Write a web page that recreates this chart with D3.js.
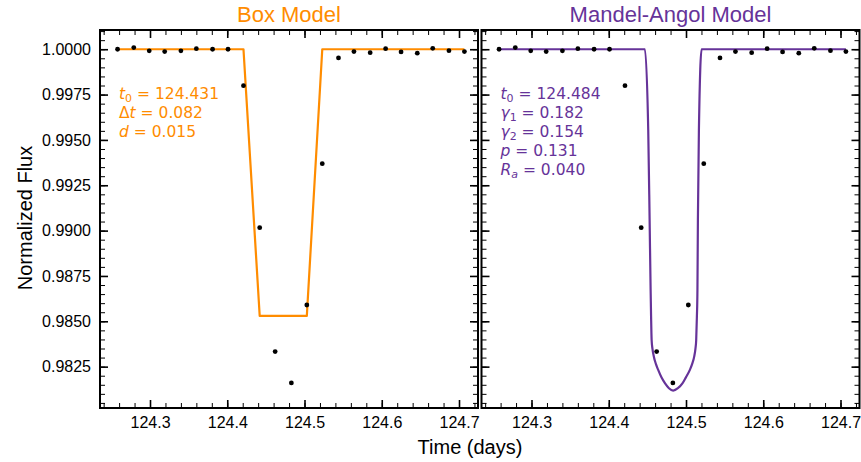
<!DOCTYPE html>
<html>
<head>
<meta charset="utf-8">
<script src="https://cdn.jsdelivr.net/npm/d3@7"></script>
<style>
  body { margin: 0; background: #fff; }
</style>
</head>
<body>
<div id="chart"></div>
<script>
// observed cadence times (days) and normalized flux
const times = [124.258, 124.279, 124.299, 124.319, 124.340, 124.360, 124.381, 124.401,
  124.421, 124.442, 124.462, 124.483, 124.503, 124.523, 124.544, 124.564, 124.585,
  124.605, 124.625, 124.646, 124.666, 124.687, 124.707];
const flux = [1.0000, 1.00009, 0.99991, 0.99987, 0.99991, 1.00003, 1.0000, 1.0000,
  0.99799, 0.99016, 0.98333, 0.98160, 0.98590, 0.99369, 0.99952, 0.99987, 0.99981,
  1.00003, 0.99985, 0.99978, 1.00005, 0.99992, 0.99987];

// box model evaluated at the cadence times
const boxFlux = [1, 1, 1, 1, 1, 1, 1, 1, 1, 0.9853, 0.9853, 0.9853, 0.9853,
  1, 1, 1, 1, 1, 1, 1, 1, 1, 1];

// Mandel-Agol model curve
const maTimes = [124.258, 124.4468, 124.4511, 124.4529, 124.4542, 124.4548, 124.4555,
  124.4566, 124.4584, 124.4610, 124.4640, 124.4682, 124.4727, 124.4779, 124.4834,
  124.4895, 124.4956, 124.4999, 124.5050, 124.5080, 124.5106, 124.5122, 124.5132,
  124.5141, 124.5148, 124.5154, 124.5167, 124.5202, 124.707];
const maFlux = [1.0, 1.0, 0.99555, 0.99059, 0.98673, 0.98526, 0.98397,
  0.98348, 0.98305, 0.98265, 0.98232, 0.98191, 0.98159, 0.98131, 0.98118,
  0.98131, 0.98159, 0.98191, 0.98232, 0.98265, 0.98305, 0.98348, 0.98397,
  0.98526, 0.98673, 0.99059, 0.99555, 1.0, 1.0];

const xTicks = [124.3, 124.4, 124.5, 124.6, 124.7];
const yTicks = [0.9825, 0.9850, 0.9875, 0.9900, 0.9925, 0.9950, 0.9975, 1.0000];

const boxParams = [["t", "0", "124.431"], ["Δt", "", "0.082"], ["d", "", "0.015"]];
const maParams = [["t", "0", "124.484"], ["γ", "1", "0.182"], ["γ", "2", "0.154"],
  ["p", "", "0.131"], ["R", "a", "0.040"]];

const orange = "#ff8c00", purple = "#663399";
const W = 861, H = 462;
const margin = { top: 30, left: 100 };
const size = 378, gap = 3.5;

const svg = d3.select("#chart").append("svg")
  .attr("width", W).attr("height", H);

const y = d3.scaleLinear().domain([0.98022, 1.00106]).range([size, 0]);

const minorX = d3.range(124.24, 124.73, 0.02);
const minorY = d3.range(0.9805, 1.0011, 0.0005);

function drawPanel(left, title, color, lineT, lineF, curve, params) {
  const g = svg.append("g")
    .attr("transform", "translate(" + left + "," + margin.top + ")");
  const x = d3.scaleLinear().domain([124.23527, 124.72459]).range([0, size]);

  // minor ticks, all four sides, pointing in
  const minorStyle = sel => {
    sel.select(".domain").remove();
    sel.selectAll("line").attr("stroke", "#000").attr("stroke-width", 1);
  };
  g.append("g").attr("transform", "translate(0," + size + ")")
    .call(d3.axisBottom(x).tickValues(minorX).tickSize(-5).tickFormat("")).call(minorStyle);
  g.append("g")
    .call(d3.axisTop(x).tickValues(minorX).tickSize(-5).tickFormat("")).call(minorStyle);
  g.append("g")
    .call(d3.axisLeft(y).tickValues(minorY).tickSize(-5).tickFormat("")).call(minorStyle);
  g.append("g").attr("transform", "translate(" + size + ",0)")
    .call(d3.axisRight(y).tickValues(minorY).tickSize(-5).tickFormat("")).call(minorStyle);

  const majorStyle = sel => {
    sel.select(".domain").remove();
    sel.selectAll("line").attr("stroke", "#000").attr("stroke-width", 1.6);
    sel.selectAll("text").attr("font-family", "Liberation Sans, Arial, sans-serif")
      .attr("font-size", 16).attr("fill", "#000");
  };
  g.append("g").attr("transform", "translate(0," + size + ")")
    .call(d3.axisBottom(x).tickValues(xTicks).tickSizeInner(-8).tickSizeOuter(0)
      .tickPadding(8.5).tickFormat(d3.format(".1f"))).call(majorStyle);
  g.append("g")
    .call(d3.axisTop(x).tickValues(xTicks).tickSizeInner(-8).tickSizeOuter(0).tickFormat(""))
    .call(majorStyle);
  g.append("g")
    .call(d3.axisLeft(y).tickValues(yTicks).tickSizeInner(-8).tickSizeOuter(0)
      .tickPadding(9).tickFormat(left === margin.left ? d3.format(".4f") : ""))
    .call(majorStyle);
  g.append("g").attr("transform", "translate(" + size + ",0)")
    .call(d3.axisRight(y).tickValues(yTicks).tickSizeInner(-8).tickSizeOuter(0).tickFormat(""))
    .call(majorStyle);

  // model line
  const pts = lineT.map((t, i) => [t, lineF[i]]);
  g.append("path")
    .datum(pts)
    .attr("fill", "none")
    .attr("stroke", color)
    .attr("stroke-width", 2.2)
    .attr("stroke-linejoin", "round")
    .attr("d", d3.line().x(d => x(d[0])).y(d => y(d[1])).curve(curve));

  // data points
  g.append("g")
    .selectAll("circle")
    .data(times)
    .enter()
    .append("circle")
      .attr("cx", d => x(d))
      .attr("cy", (d, i) => y(flux[i]))
      .attr("r", 2.4)
      .attr("fill", "#000");

  // frame
  g.append("rect")
    .attr("width", size).attr("height", size)
    .attr("fill", "none").attr("stroke", "#000").attr("stroke-width", 2);

  // title
  g.append("text")
    .attr("x", size / 2).attr("y", -8.5)
    .attr("text-anchor", "middle")
    .attr("font-family", "Liberation Sans, Arial, sans-serif")
    .attr("font-size", 22)
    .attr("fill", color)
    .text(title);

  // fit parameters
  params.forEach((p, i) => {
    const t = g.append("text")
      .attr("x", 19).attr("y", 69 + i * 19)
      .attr("font-family", "DejaVu Sans, sans-serif")
      .attr("font-size", 15.5)
      .attr("fill", color);
    if (p[0] === "Δt") {
      t.append("tspan").text("Δ");
      t.append("tspan").attr("font-style", "italic").text("t");
    } else {
      t.append("tspan").attr("font-style", "italic").text(p[0]);
    }
    if (p[1]) {
      t.append("tspan").attr("font-size", 11).attr("dy", 3)
        .attr("font-style", p[1] === "a" ? "italic" : "normal").text(p[1]);
      t.append("tspan").attr("dy", -3).text(" = " + p[2]);
    } else {
      t.append("tspan").text(" = " + p[2]);
    }
  });
}

drawPanel(margin.left, "Box Model", orange, times, boxFlux, d3.curveLinear, boxParams);
drawPanel(margin.left + size + gap, "Mandel-Angol Model", purple, maTimes, maFlux,
  d3.curveMonotoneX, maParams);

// shared axis labels
svg.append("text")
  .attr("x", 470).attr("y", 454)
  .attr("text-anchor", "middle")
  .attr("font-family", "Liberation Sans, Arial, sans-serif")
  .attr("font-size", 20)
  .text("Time (days)");

svg.append("text")
  .attr("transform", "translate(32,218) rotate(-90)")
  .attr("text-anchor", "middle")
  .attr("font-family", "Liberation Sans, Arial, sans-serif")
  .attr("font-size", 20)
  .text("Normalized Flux");
</script>
</body>
</html>
